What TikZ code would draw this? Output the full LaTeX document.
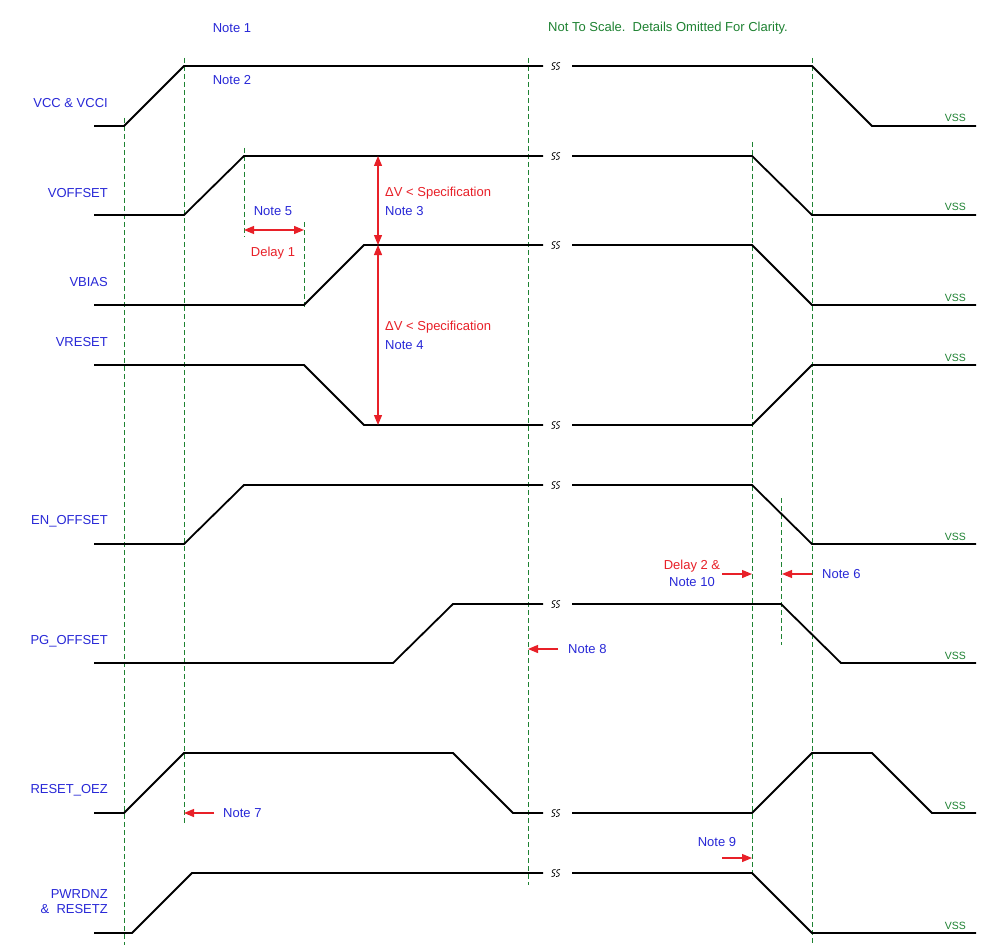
\documentclass[tikz,border=0pt]{standalone}
\usepackage{fontspec}
\setmainfont{Liberation Sans}
\usetikzlibrary{arrows.meta}
\definecolor{tblue}{RGB}{40,40,215}
\definecolor{tred}{RGB}{232,32,40}
\definecolor{tgreen}{RGB}{30,130,50}
\newcommand\sigbreak[1]{%
  \draw[line width=0.7pt] (555.5,#1-3.5) .. controls (551.5,#1-4) and (551.5,#1) .. (553.5,#1) .. controls (555.5,#1) and (555.5,#1+4) .. (551.5,#1+3.5);
  \draw[line width=0.7pt] (560,#1-3.5) .. controls (556,#1-4) and (556,#1) .. (558,#1) .. controls (560,#1) and (560,#1+4) .. (556,#1+3.5);}
\begin{document}
\begin{tikzpicture}[x=1pt,y=-1pt,
  font=\fontsize{13}{15}\selectfont,
  sig/.style={line width=1.8pt, line join=miter},
  guide/.style={tgreen, line width=0.9pt, dash pattern=on 5pt off 3pt},
  lbl/.style={anchor=east, text=tblue, inner sep=0pt},
  bnote/.style={text=tblue, inner sep=0pt},
  rnote/.style={text=tred, inner sep=0pt},
  vss/.style={anchor=base east, text=tgreen, inner sep=0pt, font=\fontsize{10.5}{12}\selectfont},
  rarr/.style={tred, line width=1.2pt, -{Triangle[length=10pt,width=8pt]}},
  rdarr/.style={tred, line width=1.2pt, {Triangle[length=10pt,width=8pt]}-{Triangle[length=10pt,width=8pt]}}]
\useasboundingbox[fill=white] (0,0) rectangle (982,952);

% guides
\draw[guide] (124,118) -- (124,945);
\draw[guide] (184,58) -- (184,825);
\draw[guide] (244,148) -- (244,237);
\draw[guide] (304,222) -- (304,307);
\draw[guide] (528,58) -- (528,885);
\draw[guide] (752,142) -- (752,878);
\draw[guide] (812,58) -- (812,945);
\draw[guide] (781,498) -- (781,645);

% waveforms
\draw[sig] (94,126) -- (124,126) -- (184,66) -- (543,66);
\draw[sig] (572,66) -- (812,66) -- (872,126) -- (976,126);
\draw[sig] (94,215) -- (184,215) -- (244,156) -- (543,156);
\draw[sig] (572,156) -- (752,156) -- (812,215) -- (976,215);
\draw[sig] (94,305) -- (304,305) -- (364,245) -- (543,245);
\draw[sig] (572,245) -- (752,245) -- (812,305) -- (976,305);
\draw[sig] (94,365) -- (304,365) -- (364,425) -- (543,425);
\draw[sig] (572,425) -- (752,425) -- (812,365) -- (976,365);
\draw[sig] (94,544) -- (184,544) -- (244,485) -- (543,485);
\draw[sig] (572,485) -- (752,485) -- (812,544) -- (976,544);
\draw[sig] (94,663) -- (393,663) -- (453,604) -- (543,604);
\draw[sig] (572,604) -- (781,604) -- (841,663) -- (976,663);
\draw[sig] (94,813) -- (124,813) -- (184,753) -- (453,753) -- (513,813) -- (543,813);
\draw[sig] (572,813) -- (752,813) -- (812,753) -- (872,753) -- (932,813) -- (976,813);
\draw[sig] (94,933) -- (132,933) -- (192,873) -- (543,873);
\draw[sig] (572,873) -- (752,873) -- (812,933) -- (976,933);

\foreach \yy in {66,156,245,425,485,604,813,873} {\sigbreak{\yy}}

% signal labels
\node[lbl] (lvcc) at (108,103) {VCC \& VCCI};
\node[lbl] (lvoff) at (108,193) {VOFFSET};
\node[lbl] (lvbias) at (108,282) {VBIAS};
\node[lbl] (lvreset) at (108,342) {VRESET};
\node[lbl] (len) at (108,521) {EN\_OFFSET};
\node[lbl] (lpg) at (108,641) {PG\_OFFSET};
\node[lbl] (lroez) at (108,790) {RESET\_OEZ};
\node[lbl, align=right] (lpwr) at (108,902) {PWRDNZ\\\&\ \ RESETZ};

% VSS labels
\foreach \yy/\nm in {126/a,215/b,305/c,365/d,544/e,663/f,813/g,933/h}
  {\node[vss] (vss\nm) at (966,\yy-4) {VSS};}

% top notes
\node[bnote] (n1) at (232,28) {Note 1};
\node[bnote] (n2) at (232,80) {Note 2};
\node[anchor=west, text=tgreen, inner sep=0pt] (nts) at (548,28) {Not To Scale.\ \ Details Omitted For Clarity.};

% Delay 1
\coordinate (d1a) at (244,230);
\coordinate (d1b) at (304,230);
\draw[rdarr] (d1a) -- (d1b);
\node[bnote] (n5) at (273,211) {Note 5};
\node[rnote] (dl1) at (273,253) {Delay 1};

% Delta V arrows
\coordinate (dv1a) at (378,156);
\coordinate (dv1b) at (378,245);
\coordinate (dv2b) at (378,425);
\draw[rdarr] (dv1a) -- (dv1b);
\draw[rdarr] (dv1b) -- (dv2b);
\node[rnote, anchor=west] (dvs1) at (385,193) {ΔV < Specification};
\node[bnote, anchor=west] (n3) at (385,211) {Note 3};
\node[rnote, anchor=west] (dvs2) at (385,327) {ΔV < Specification};
\node[bnote, anchor=west] (n4) at (385,345) {Note 4};

% Delay 2 / Note 10
\coordinate (d2a) at (722,574);
\coordinate (d2b) at (752,574);
\draw[rarr] (d2a) -- (d2b);
\node[rnote] (dl2) at (692,566) {Delay 2 \&};
\node[bnote] (n10) at (692,582) {Note 10};

% Note 6
\coordinate (n6a) at (812,574);
\coordinate (n6b) at (782,574);
\draw[rarr] (n6a) -- (n6b);
\node[bnote, anchor=west] (n6) at (822,574) {Note 6};

% Note 8
\coordinate (n8a) at (558,649);
\coordinate (n8b) at (528,649);
\draw[rarr] (n8a) -- (n8b);
\node[bnote, anchor=west] (n8) at (568,649) {Note 8};

% Note 7
\coordinate (n7a) at (214,813);
\coordinate (n7b) at (184,813);
\draw[rarr] (n7a) -- (n7b);
\node[bnote, anchor=west] (n7) at (223,813) {Note 7};

% Note 9
\coordinate (n9a) at (722,858);
\coordinate (n9b) at (752,858);
\draw[rarr] (n9a) -- (n9b);
\node[bnote] (n9) at (717,842) {Note 9};
\end{tikzpicture}
\end{document}
